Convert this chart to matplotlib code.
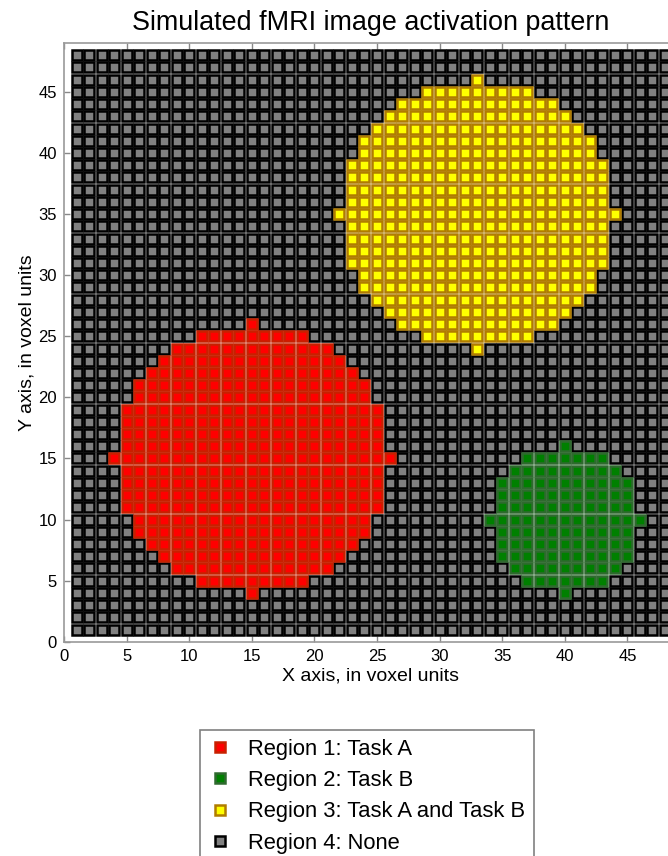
import matplotlib
matplotlib.use('Agg')
import matplotlib.pyplot as plt

plt.rcParams['font.family'] = ['Liberation Sans', 'DejaVu Sans']

# voxel grid size (x and y run 1..48)
grid_n = 48

# active voxels, stored as row spans: (y, x_first, x_last)
region1_spans = [
    (4, 15, 15), (5, 11, 19), (6, 9, 21), (7, 8, 22), (8, 7, 23), (9, 6, 24),
    (10, 6, 24), (11, 5, 25), (12, 5, 25), (13, 5, 25), (14, 5, 25), (15, 4, 26),
    (16, 5, 25), (17, 5, 25), (18, 5, 25), (19, 5, 25), (20, 6, 24), (21, 6, 24),
    (22, 7, 23), (23, 8, 22), (24, 9, 21), (25, 11, 19), (26, 15, 15),
]
region2_spans = [
    (4, 40, 40), (5, 37, 43), (6, 36, 44), (7, 35, 45), (8, 35, 45), (9, 35, 45),
    (10, 34, 46), (11, 35, 45), (12, 35, 45), (13, 35, 45), (14, 36, 44),
    (15, 37, 43), (16, 40, 40),
]
region3_spans = [
    (24, 33, 33), (25, 29, 37), (26, 27, 39), (27, 26, 40), (28, 25, 41), (29, 24, 42),
    (30, 24, 42), (31, 23, 43), (32, 23, 43), (33, 23, 43), (34, 23, 43), (35, 22, 44),
    (36, 23, 43), (37, 23, 43), (38, 23, 43), (39, 23, 43), (40, 24, 42), (41, 24, 42),
    (42, 25, 41), (43, 26, 40), (44, 27, 39), (45, 29, 37), (46, 33, 33),
]

labels = ['Region 1: Task A', 'Region 2: Task B',
          'Region 3: Task A and Task B', 'Region 4: None']
face_colors = ['#FF0000', '#008000', '#FFFF00', '#808080']
edge_colors = ['#C82000', '#2F6A2F', '#B07C00', '#000000']


def spans_to_points(spans):
    xs, ys = [], []
    for y, x0, x1 in spans:
        for x in range(x0, x1 + 1):
            xs.append(x)
            ys.append(y)
    return xs, ys


active = [spans_to_points(s) for s in (region1_spans, region2_spans, region3_spans)]
taken = set()
for xs, ys in active:
    taken.update(zip(xs, ys))
bg_x, bg_y = [], []
for y in range(1, grid_n + 1):
    for x in range(1, grid_n + 1):
        if (x, y) not in taken:
            bg_x.append(x)
            bg_y.append(y)

fig = plt.figure(figsize=(6.68, 8.56), dpi=100)
ax = fig.add_axes([64 / 668, 1 - 641.8 / 856, 613.5 / 668, 598.8 / 856])
ax.set_facecolor('white')

# background voxels first so the active regions sit on top
points = [(bg_x, bg_y)] + active
order = [3, 0, 1, 2]
handles = [None] * 4
for i in order:
    xs, ys = points[0] if i == 3 else points[i + 1]
    h, = ax.plot(xs, ys, ls='none', marker='s', ms=7.8, mew=1.8,
                 mfc=face_colors[i], mec=edge_colors[i], label=labels[i])
    handles[i] = h

ax.set_xlim(0, 49)
ax.set_ylim(0, 49)
ax.set_xticks(range(0, 50, 5))
ax.set_yticks(range(0, 50, 5))
ax.tick_params(direction='in', length=4.5, width=1, color='#888888',
               labelsize=12, top=True, right=True, pad=5)
for sp in ax.spines.values():
    sp.set_color('#999999')
    sp.set_linewidth(1.2)

ax.set_title('Simulated fMRI image activation pattern', fontsize=19.4, pad=9)
ax.set_xlabel('X axis, in voxel units', fontsize=14, labelpad=3)
ax.set_ylabel('Y axis, in voxel units', fontsize=14, labelpad=2)

leg = fig.legend(handles=handles, loc='upper center',
                 bbox_to_anchor=(367 / 668, 1 - 730 / 856), fontsize=15.8,
                 fancybox=False, edgecolor='#808080', framealpha=1,
                 handlelength=1.0, handletextpad=0.75, labelspacing=0.47,
                 borderpad=0.4, borderaxespad=0)
leg.get_frame().set_linewidth(1.2)

fig.savefig('out.png', dpi=100)
